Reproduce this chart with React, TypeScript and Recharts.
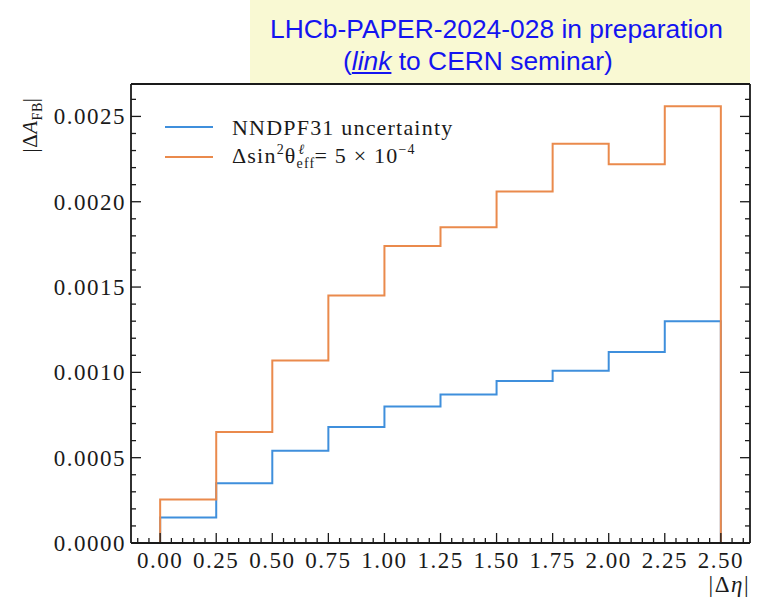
import { LineChart, Line, XAxis, YAxis, Legend } from "recharts";

// |Δη| bin edges and per-bin |ΔA_FB| values
const binEdges = [0, 0.25, 0.5, 0.75, 1.0, 1.25, 1.5, 1.75, 2.0, 2.25, 2.5];
const pdfUncertainty = [
  0.00015, 0.00035, 0.00054, 0.00068, 0.0008, 0.00087, 0.00095, 0.00101, 0.00112, 0.0013,
];
const sin2Shift = [
  0.000255, 0.00065, 0.00107, 0.00145, 0.00174, 0.00185, 0.00206, 0.00234, 0.00222, 0.00256,
];

// minor ticks every 0.05 in x and 0.0001 in y; majors get labels
const xTicks = Array.from({ length: 55 }, (_, i) => Math.round((i - 2) * 5) / 100);
const yTicks = Array.from({ length: 27 }, (_, i) => i / 10000);

const INK = "#1a1a1a";
const BLUE = "#3f8fdc";
const ORANGE = "#ea8a4c";
const SERIF = "'Liberation Serif', 'Times New Roman', serif";

const isMajorX = (v: number) => Math.round(v * 100) % 25 === 0;
const isMajorY = (v: number) => Math.round(v * 10000) % 5 === 0;

// histogram outline: up from zero at the first edge, down to zero at the last
function stairs(values: number[]) {
  const pts = [{ x: binEdges[0], y: 0 }];
  values.forEach((v, i) => pts.push({ x: binEdges[i], y: v }));
  pts.push({ x: binEdges[values.length], y: values[values.length - 1] });
  pts.push({ x: binEdges[values.length], y: 0 });
  return pts;
}

const labelStyle = { fontFamily: SERIF, fontSize: 23, letterSpacing: 1.5, fill: INK };

const BottomTick = ({ x, y, payload }: any) => {
  const major = isMajorX(payload.value);
  return (
    <g>
      <line x1={x} x2={x} y1={y} y2={y - (major ? 10 : 5)} stroke={INK} strokeWidth={1.3} />
      {major && (
        <text x={x} y={y + 25} textAnchor="middle" style={labelStyle}>
          {payload.value.toFixed(2)}
        </text>
      )}
    </g>
  );
};

const TopTick = ({ x, y, payload }: any) => {
  const major = isMajorX(payload.value);
  return <line x1={x} x2={x} y1={y} y2={y + (major ? 10 : 5)} stroke={INK} strokeWidth={1.3} />;
};

const LeftTick = ({ x, y, payload }: any) => {
  const major = isMajorY(payload.value);
  return (
    <g>
      <line x1={x} x2={x + (major ? 10 : 5)} y1={y} y2={y} stroke={INK} strokeWidth={1.3} />
      {major && (
        <text x={x - 5} y={y + 8} textAnchor="end" style={labelStyle}>
          {payload.value.toFixed(4)}
        </text>
      )}
    </g>
  );
};

const RightTick = ({ x, y, payload }: any) => {
  const major = isMajorY(payload.value);
  return <line x1={x} x2={x - (major ? 10 : 5)} y1={y} y2={y} stroke={INK} strokeWidth={1.3} />;
};

const legendText = (name: string) => {
  if (name === "pdf") return <tspan>NNDPF31 uncertainty</tspan>;
  return (
    <>
      <tspan>Δsin</tspan>
      <tspan dy={-9} fontSize={14}>2</tspan>
      <tspan dy={9}>θ</tspan>
      <tspan dy={5} fontSize={14}>eff</tspan>
      <tspan dx={-17} dy={-14} fontSize={14} fontStyle="italic">ℓ</tspan>
      <tspan dx={9} dy={9}>= 5 × 10</tspan>
      <tspan dy={-9} fontSize={14}>−4</tspan>
    </>
  );
};

const renderLegend = ({ payload }: any) => (
  <svg width={320} height={80}>
    {(payload || []).map((entry: any, i: number) => (
      <g key={entry.value}>
        <line x1={15} x2={63} y1={27 + i * 30} y2={27 + i * 30} stroke={entry.color} strokeWidth={2} />
        <text x={82} y={35 + i * 28} style={{ fontFamily: SERIF, fontSize: 22, letterSpacing: 1.2, fill: INK }}>
          {legendText(entry.value)}
        </text>
      </g>
    ))}
  </svg>
);

export default function App() {
  return (
    <div style={{ position: "absolute", left: 0, top: 0, width: 760, height: 600, background: "#fff" }}>
      <LineChart width={760} height={600} margin={{ top: 83, right: 9, bottom: 56, left: 130 }}>
        <XAxis
          xAxisId="bottom"
          type="number"
          dataKey="x"
          domain={[-0.13, 2.63]}
          ticks={xTicks}
          interval={0}
          allowDataOverflow
          height={1}
          tickSize={0}
          tickMargin={0}
          tickLine={false}
          tick={<BottomTick />}
          axisLine={{ stroke: INK, strokeWidth: 1.8 }}
          label={{
            content: () => (
              <text x={750} y={592} textAnchor="end" style={labelStyle}>
                |Δ<tspan fontStyle="italic">η</tspan>|
              </text>
            ),
          }}
        />
        <XAxis
          xAxisId="top"
          orientation="top"
          type="number"
          domain={[-0.13, 2.63]}
          ticks={xTicks}
          interval={0}
          allowDataOverflow
          height={1}
          tickSize={0}
          tickMargin={0}
          tickLine={false}
          tick={<TopTick />}
          axisLine={{ stroke: INK, strokeWidth: 1.8 }}
        />
        <YAxis
          yAxisId="left"
          type="number"
          domain={[0, 0.00269]}
          ticks={yTicks}
          interval={0}
          allowDataOverflow
          width={1}
          tickSize={0}
          tickMargin={0}
          tickLine={false}
          tick={<LeftTick />}
          axisLine={{ stroke: INK, strokeWidth: 1.8 }}
          label={{
            content: () => (
              <text
                transform="translate(37,125) rotate(-90)"
                textAnchor="middle"
                style={{ ...labelStyle, fontSize: 21, letterSpacing: 0.5 }}
              >
                |Δ<tspan fontStyle="italic">A</tspan>
                <tspan dy={5} fontSize={14}>FB</tspan>
                <tspan dy={-5}>|</tspan>
              </text>
            ),
          }}
        />
        <YAxis
          yAxisId="right"
          orientation="right"
          type="number"
          domain={[0, 0.00269]}
          ticks={yTicks}
          interval={0}
          allowDataOverflow
          width={1}
          tickSize={0}
          tickMargin={0}
          tickLine={false}
          tick={<RightTick />}
          axisLine={{ stroke: INK, strokeWidth: 1.8 }}
        />
        <Legend
          layout="vertical"
          align="center"
          verticalAlign="middle"
          wrapperStyle={{ left: 150, top: 100, width: 320 }}
          content={renderLegend}
        />
        <Line
          xAxisId="bottom"
          yAxisId="left"
          name="pdf"
          data={stairs(pdfUncertainty)}
          dataKey="y"
          type="stepAfter"
          stroke={BLUE}
          strokeWidth={2}
          dot={false}
          activeDot={false}
          isAnimationActive={false}
        />
        <Line
          xAxisId="bottom"
          yAxisId="left"
          name="sin2"
          data={stairs(sin2Shift)}
          dataKey="y"
          type="stepAfter"
          stroke={ORANGE}
          strokeWidth={2}
          dot={false}
          activeDot={false}
          isAnimationActive={false}
        />
      </LineChart>
      <div
        style={{
          position: "absolute",
          left: 250,
          top: 0,
          width: 500,
          height: 83,
          background: "#f9f9d3",
          color: "#1414f0",
          fontFamily: "'Liberation Sans', Arial, sans-serif",
          fontSize: 26.4,
          lineHeight: "26px",
        }}
      >
        <div style={{ position: "absolute", left: 20, top: 16, whiteSpace: "nowrap" }}>
          LHCb-PAPER-2024-028 in preparation
        </div>
        <div style={{ position: "absolute", left: 93, top: 48, whiteSpace: "nowrap" }}>
          (<span style={{ fontStyle: "italic", textDecoration: "underline" }}>link</span> to CERN seminar)
        </div>
      </div>
    </div>
  );
}
